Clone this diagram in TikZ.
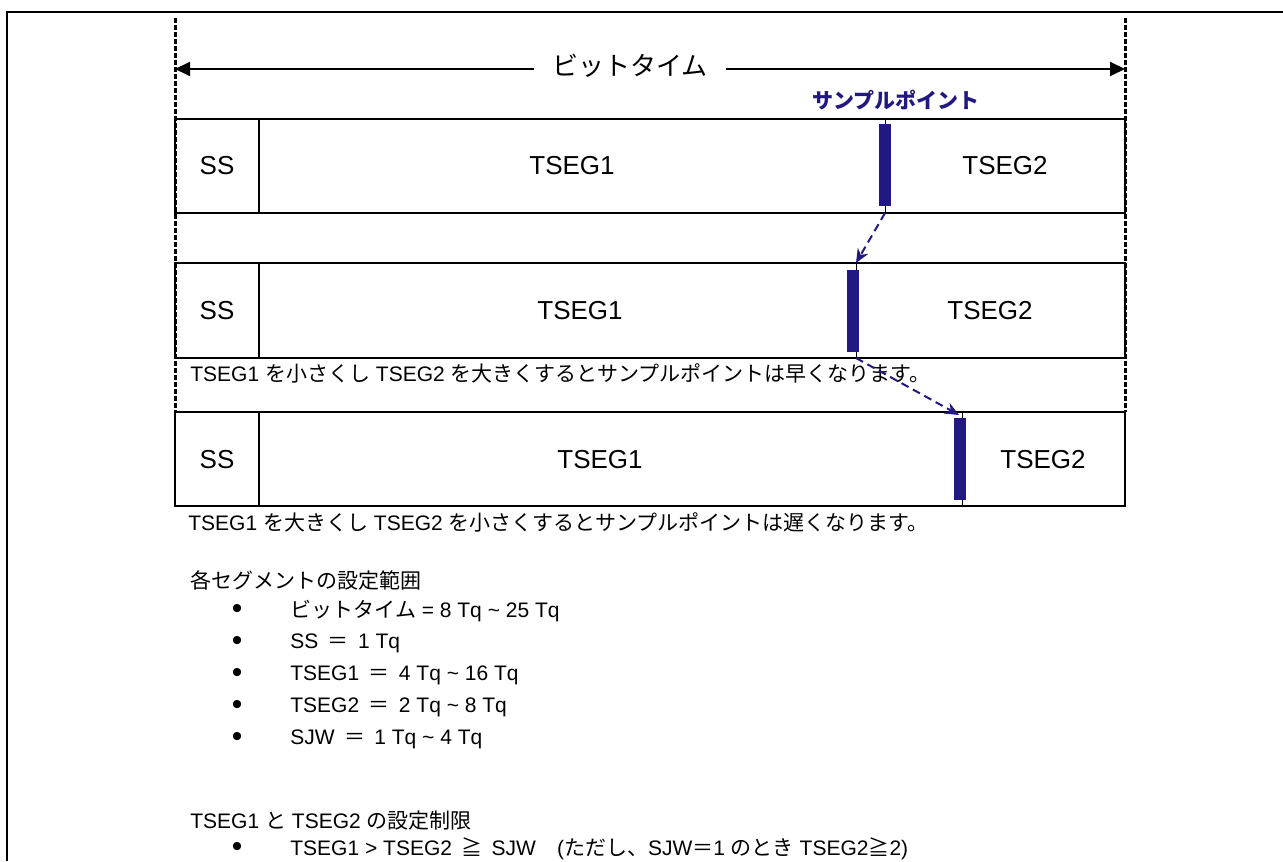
\documentclass[tikz,border=0pt]{standalone}
\usepackage{fontspec}
\setmainfont{Liberation Sans}
\newfontfamily\jp{Noto Sans CJK JP}
\usetikzlibrary{arrows.meta}
\definecolor{spblue}{RGB}{33,24,130}

\begin{document}
\begin{tikzpicture}[x=0.5pt,y=-0.5pt,
    rowbox/.style={draw,line width=1pt},
    segtext/.style={font=\fontsize{13}{15}\selectfont},
    spbar/.style={fill=spblue,draw=none,minimum width=6pt,minimum height=41pt,inner sep=0pt},
    sptick/.style={line width=0.5pt},
    spmove/.style={spblue,line width=1pt,dash pattern=on 4pt off 2.5pt,-{Stealth[length=7pt,width=6pt]}},
    limitline/.style={line width=1.5pt,dash pattern=on 2.5pt off 1pt},
    note/.style={anchor=west,inner sep=0pt,font=\fontsize{10.5}{12}\selectfont},
    dot/.style={anchor=base,inner sep=0pt,text height=6pt,text depth=0pt,font=\fontsize{15}{15}\selectfont}]
      \useasboundingbox (0,0) rectangle (1283,861);
      \draw [line width=1pt] (7,861) -- (7,12) -- (1283,12);

      \draw [limitline] (175,18) -- (175,412);
      \draw [limitline] (1125,18) -- (1125,412);
      \coordinate (btl) at (175,69);
      \coordinate (btr) at (1125,69);
      \draw [line width=0.9pt,{Triangle[length=7.5pt,width=7pt]}-{Triangle[length=7.5pt,width=7pt]}] (btl) -- (btr);
      \node [fill=white,inner xsep=9pt,font=\fontsize{13}{15}\jp] (bt) at (630,66) {ビットタイム};
      \node [text=spblue,font=\fontsize{10.5}{12}\jp\bfseries] (splabel) at (896,100) {サンプルポイント};

      \draw [rowbox] (175,119) rectangle (1125,213);
      \draw [rowbox] (259,119) -- (259,213);
      \node [segtext] (ss1) at (217,166) {SS};
      \node [segtext] (tseg1a) at (572,166) {TSEG1};
      \node [segtext] (tseg2a) at (1005,166) {TSEG2};
      \coordinate (spa-t) at (885,119);
      \coordinate (spa-b) at (885,213);
      \draw [sptick] (spa-t) -- (spa-b);
      \node [spbar] (spa) at (885,165) {};

      \draw [rowbox] (175,263) rectangle (1125,358);
      \draw [rowbox] (259,263) -- (259,358);
      \node [segtext] (ss2) at (217,311) {SS};
      \node [segtext] (tseg1b) at (580,311) {TSEG1};
      \node [segtext] (tseg2b) at (990,311) {TSEG2};
      \coordinate (spb-t) at (856,263);
      \coordinate (spb-b) at (856,358);
      \draw [sptick] (spb-t) -- (spb-b);
      \node [spbar] (spb) at (853,311) {};

      \node [note] (early) at (190,373) {TSEG1 {\jp を小さくし} TSEG2 {\jp を大きくするとサンプルポイントは早くなります。}};

      \draw [rowbox] (175,412) rectangle (1125,506);
      \draw [rowbox] (259,412) -- (259,506);
      \node [segtext] (ss3) at (217,460) {SS};
      \node [segtext] (tseg1c) at (600,460) {TSEG1};
      \node [segtext] (tseg2c) at (1043,460) {TSEG2};
      \coordinate (spc-t) at (962,412);
      \coordinate (spc-b) at (962,506);
      \draw [sptick] (spc-t) -- (spc-b);
      \node [spbar] (spc) at (960,459) {};

      \draw [spmove] (spa-b) -- (spb-t);
      \draw [spmove] (spb-b) -- (959,415);

      \node [note] (late) at (188,522) {TSEG1 {\jp を大きくし} TSEG2 {\jp を小さくするとサンプルポイントは遅くなります。}};

      \node [note] (range) at (190,580) {\jp 各セグメントの設定範囲};
      \node [dot] (b1) at (237,618) {•};
      \node [note] (r1) at (290,611) {{\jp ビットタイム} = 8 Tq \textasciitilde{} 25 Tq};
      \node [dot] (b2) at (237,650) {•};
      \node [note] (r2) at (290,643) {SS\, {\jp ＝}\, 1 Tq};
      \node [dot] (b3) at (237,682) {•};
      \node [note] (r3) at (290,675) {TSEG1\, {\jp ＝}\, 4 Tq \textasciitilde{} 16 Tq};
      \node [dot] (b4) at (237,714) {•};
      \node [note] (r4) at (290,707) {TSEG2\, {\jp ＝}\, 2 Tq \textasciitilde{} 8 Tq};
      \node [dot] (b5) at (237,746) {•};
      \node [note] (r5) at (290,739) {SJW\, {\jp ＝}\, 1 Tq \textasciitilde{} 4 Tq};

      \node [note] (limit) at (190,821) {TSEG1 {\jp と} TSEG2 {\jp の設定制限}};
      \node [dot] (b6) at (237,856) {•};
      \node [note] (l1) at (290,849) {TSEG1 > TSEG2\, {\jp ≧}\, SJW\quad ({\jp ただし、}SJW{\jp ＝}1 {\jp のとき} TSEG2{\jp ≧}2)};
    \end{tikzpicture}
\end{document}
